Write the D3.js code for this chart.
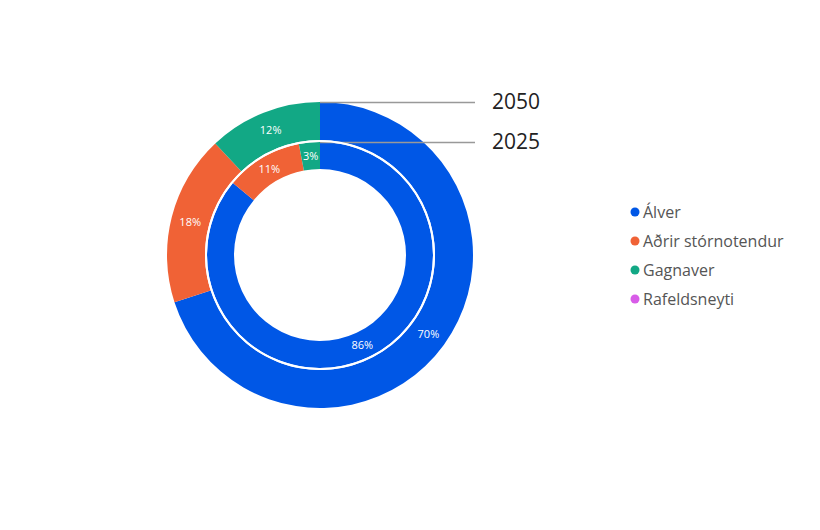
<!DOCTYPE html>
<html><head><meta charset="utf-8">
<script src="https://cdn.jsdelivr.net/npm/d3@7"></script>
<style>body{margin:0;background:#fff;font-family:"Segoe UI","Open Sans","Noto Sans",sans-serif;}</style>
</head><body><svg id="c" width="820" height="530"></svg>
<script>
const categories = ["Álver","Aðrir stórnotendur","Gagnaver","Rafeldsneyti"];
const colors = ["#0057e6","#f06236","#12a885","#d85ce8"];
const years = ["2050","2025"];
const values2050 = [70,18,12,0];
const values2025 = [86,11,3,0];

const svg = d3.select("#c");
const cx = 320, cy = 255;
const rings = [
  {year: years[0], vals: values2050, r0: 115, r1: 153},
  {year: years[1], vals: values2025, r0: 86, r1: 113}
];
const pie = d3.pie().sort(null).value(d => d);
const g = svg.append("g").attr("transform", `translate(${cx},${cy})`);
rings.forEach(ring => {
  const arc = d3.arc().innerRadius(ring.r0).outerRadius(ring.r1);
  const arcs = pie(ring.vals);
  g.selectAll(null).data(arcs).enter().append("path")
    .attr("d", arc).attr("fill", (d,i) => colors[i]);
  g.selectAll(null).data(arcs.filter(d => d.data > 0)).enter().append("text")
    .attr("transform", d => `translate(${arc.centroid(d)})`)
    .attr("text-anchor","middle").attr("dy","0.35em")
    .attr("fill","#fff").attr("font-size",11)
    .text(d => d.data + "%");
  g.append("line").attr("x1",0).attr("x2",155).attr("y1",-ring.r1+0.5).attr("y2",-ring.r1+0.5)
    .attr("stroke","#999").attr("stroke-width",1.5);
  g.append("text").attr("x",172).attr("y",-ring.r1).attr("dy","0.35em")
    .attr("font-size",21).attr("fill","#222").text(ring.year);
});
g.append("circle").attr("r",114).attr("fill","none").attr("stroke","#fff").attr("stroke-width",2);

const lg = svg.append("g");
categories.forEach((c,i) => {
  const y = 212 + i*29;
  lg.append("circle").attr("cx",635).attr("cy",y).attr("r",4.5).attr("fill",colors[i]);
  lg.append("text").attr("x",643).attr("y",y).attr("dy","0.35em")
    .attr("font-size",16).attr("fill","#555").text(c);
});
</script></body></html>
